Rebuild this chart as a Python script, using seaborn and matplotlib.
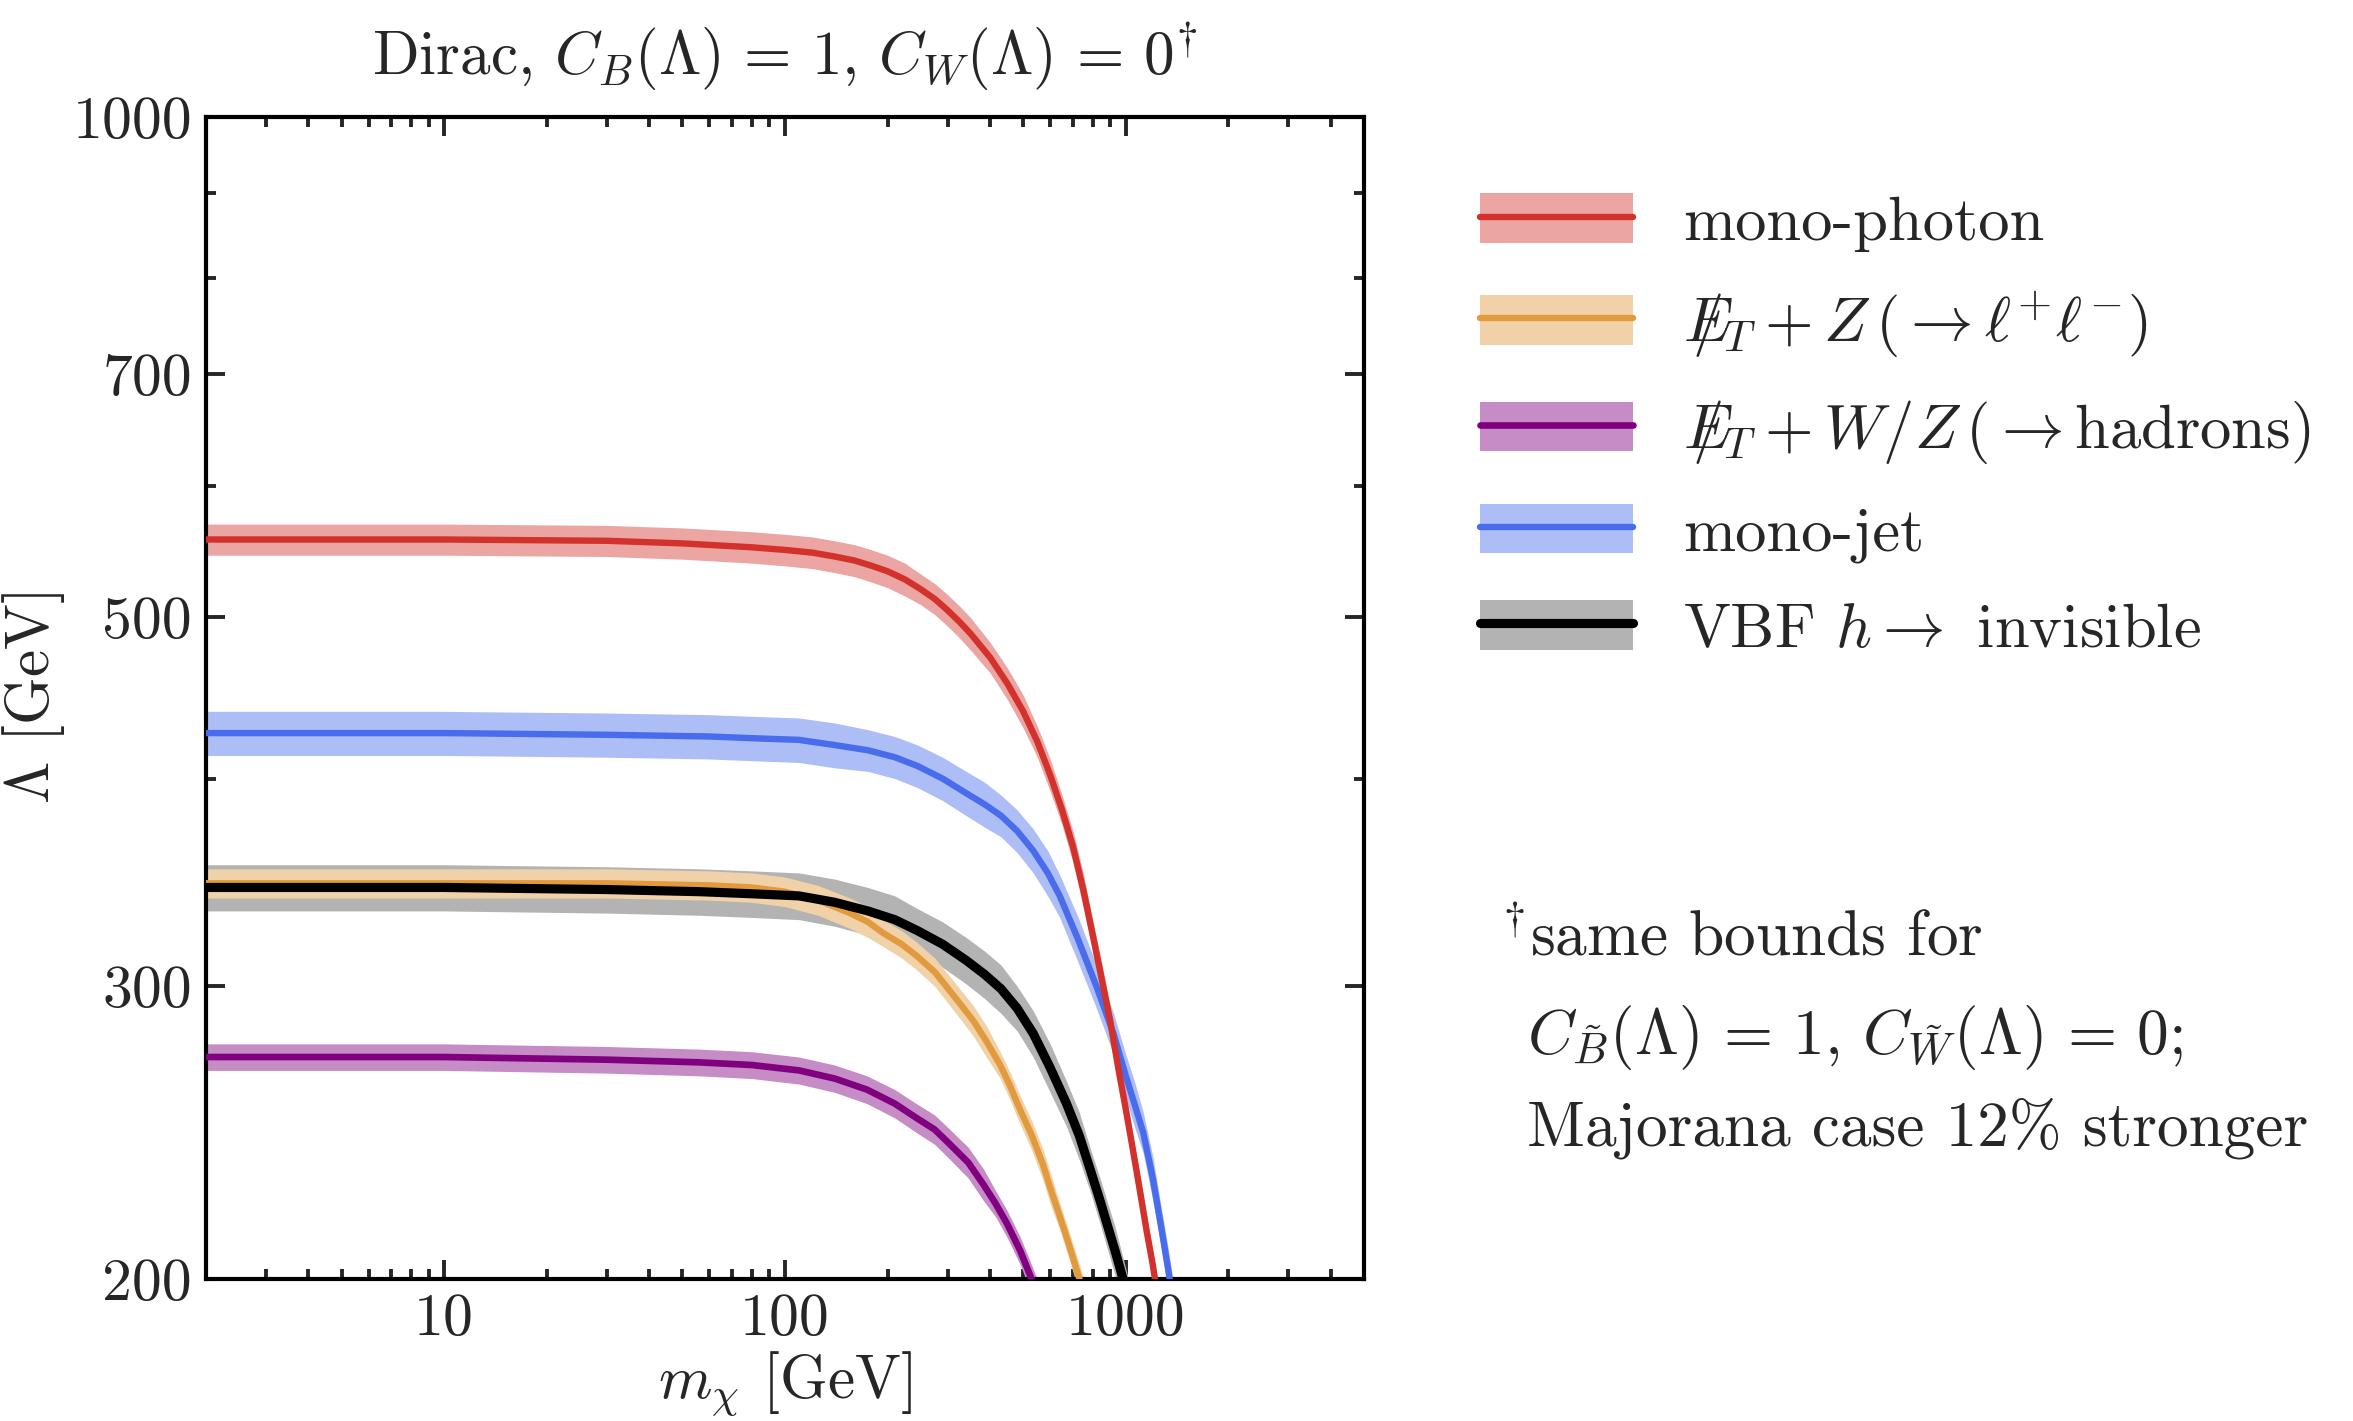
import numpy as np
import pandas as pd
import seaborn as sns
import matplotlib.pyplot as plt
from matplotlib.ticker import FixedLocator, FixedFormatter, NullFormatter, LogLocator
from matplotlib.patches import Patch
from matplotlib.lines import Line2D
from matplotlib.legend_handler import HandlerTuple

# values (m_chi in GeV, Lambda in GeV)
m_photon = [2, 10, 30, 50, 80, 100, 120, 140, 160, 180, 200, 225, 250, 275, 300, 325, 350, 400,
            450, 500, 550, 600, 650, 700, 750, 800, 850, 900, 950, 1000, 1050, 1100, 1150, 1200, 1260]
lam_photon = [557, 557, 556, 554, 551, 549, 547, 544, 541, 537, 533, 527, 520, 513, 505, 497, 489, 473,
              456, 439, 421, 402, 383, 364, 343, 322, 303, 286, 268, 253, 239, 226, 214, 204, 191]
lam_photon_hi = [569, 569, 568, 566, 563, 561, 559, 556, 553, 549, 545, 539, 531, 524, 516, 508, 500, 483,
                 466, 449, 430, 411, 391, 372, 351, 329, 310, 292, 274, 259, 244, 231, 219, 208, 195]
lam_photon_lo = [545, 545, 544, 542, 539, 537, 535, 532, 529, 525, 521, 515, 509, 502, 494, 486, 478, 463,
                 446, 429, 412, 393, 375, 356, 335, 315, 296, 280, 262, 247, 234, 221, 209, 200, 187]

m_zll = [2, 10, 30, 60, 80, 100, 125, 155, 175, 194, 220, 243, 275, 305, 330, 357, 390, 428,
         455, 489, 530, 573, 600, 641, 680, 726, 760]
lam_zll = [346, 346, 346, 345, 344, 342, 338, 332, 328, 323, 318, 313, 306, 298, 292, 286, 278, 269,
           262, 253, 244, 234, 227, 218, 210, 201, 195]
lam_zll_hi = [353, 353, 353, 352, 351, 349, 345, 339, 335, 329, 324, 319, 312, 304, 298, 292, 284, 274,
              267, 258, 249, 239, 232, 222, 214, 205, 199]
lam_zll_lo = [339, 339, 339, 338, 337, 335, 331, 325, 321, 317, 312, 307, 300, 292, 286, 280, 272, 264,
              257, 248, 239, 229, 222, 214, 206, 197, 191]

m_had = [2, 10, 30, 56, 80, 110, 140, 174, 210, 243, 275, 305, 345, 382, 415, 448, 490, 524, 560]
lam_had = [272, 272, 271, 270, 269, 267, 264, 260, 255, 250, 246, 241, 235, 228, 222, 216, 208, 201, 194]
lam_had_hi = [277, 277, 276, 275, 274, 272, 269, 265, 260, 255, 251, 246, 240, 233, 226, 220, 212, 205, 198]
lam_had_lo = [267, 267, 266, 265, 264, 262, 259, 255, 250, 245, 241, 236, 230, 223, 218, 212, 204, 197, 190]

m_jet = [2, 10, 30, 60, 80, 110, 140, 175, 210, 245, 290, 340, 385, 430, 480, 535, 590, 640,
         725, 820, 920, 1000, 1060, 1125, 1200, 1270, 1335, 1390]
lam_jet = [426, 426, 425, 424, 423, 422, 419, 416, 412, 407, 400, 392, 386, 380, 372, 362, 351, 340,
           320, 300, 281, 265, 255, 245, 230, 215, 202, 191]
lam_jet_hi = [439, 439, 438, 437, 436, 435, 432, 428, 424, 419, 412, 404, 398, 391, 383, 373, 362, 350,
              330, 309, 289, 273, 263, 252, 237, 221, 208, 197]
lam_jet_lo = [413, 413, 412, 411, 410, 409, 406, 404, 400, 395, 388, 380, 374, 369, 361, 351, 340, 330,
              310, 291, 273, 257, 247, 238, 223, 209, 196, 185]

m_vbf = [2, 10, 30, 56, 80, 110, 140, 175, 210, 245, 290, 340, 385, 430, 480, 535, 600, 670,
         730, 785, 840, 880, 930, 975, 1025]
lam_vbf = [344, 344, 343, 342, 341, 340, 337, 333, 329, 324, 318, 311, 305, 299, 291, 281, 268, 255,
           244, 233, 223, 216, 208, 201, 193]
lam_vbf_hi = [355, 355, 354, 353, 352, 351, 348, 344, 340, 334, 328, 321, 315, 309, 300, 290, 277, 263,
              252, 240, 230, 223, 215, 207, 199]
lam_vbf_lo = [333, 333, 332, 331, 330, 329, 326, 322, 318, 314, 308, 301, 295, 289, 282, 272, 259, 247,
              236, 226, 216, 209, 201, 195, 187]

labels = [
    'mono-photon',
    r'$E\!\!\!\!/_{T} + Z\,(\rightarrow \ell^{+}\ell^{-})$',
    r'$E\!\!\!\!/_{T} + W/Z\,(\rightarrow \mathrm{hadrons})$',
    'mono-jet',
    r'VBF $h \rightarrow$ invisible',
]
line_colors = ['#D3312B', '#E29A3E', '#800080', '#486CEB', '#000000']
band_colors = ['#EBA6A3', '#F1D1A7', '#C58CC5', '#ADBDF5', '#B3B3B3']

series = [
    (m_photon, lam_photon, lam_photon_lo, lam_photon_hi),
    (m_zll, lam_zll, lam_zll_lo, lam_zll_hi),
    (m_had, lam_had, lam_had_lo, lam_had_hi),
    (m_jet, lam_jet, lam_jet_lo, lam_jet_hi),
    (m_vbf, lam_vbf, lam_vbf_lo, lam_vbf_hi),
]

sns.set_style('ticks')
plt.rcParams['font.family'] = ['cmr10', 'DejaVu Serif']
plt.rcParams['mathtext.fontset'] = 'cm'
plt.rcParams['axes.unicode_minus'] = False
plt.rcParams['axes.formatter.use_mathtext'] = True

fig = plt.figure(figsize=(11.765, 7.105), dpi=200)
ax = fig.add_axes([0.0875, 0.0999, 0.4922, 0.8178])

# bands first (grey underneath), then the lines
band_order = [4, 2, 3, 1, 0]
for k, i in enumerate(band_order):
    m, c, lo, hi = series[i]
    ax.fill_between(m, lo, hi, color=band_colors[i], lw=0, zorder=1 + k * 0.1)

line_w = [2.3, 2.3, 2.4, 2.3, 3.3]
for i in [2, 3, 0, 1, 4]:
    m, c, lo, hi = series[i]
    df = pd.DataFrame({'m': m, 'lam': c})
    sns.lineplot(data=df, x='m', y='lam', ax=ax, color=line_colors[i],
                 lw=line_w[i], estimator=None, sort=False, zorder=3)

ax.set_xscale('log')
ax.set_yscale('log')
ax.set_xlim(2, 5000)
ax.set_ylim(200, 1000)

ax.xaxis.set_major_locator(FixedLocator([10, 100, 1000]))
ax.xaxis.set_major_formatter(FixedFormatter(['10', '100', '1000']))
ax.xaxis.set_minor_locator(LogLocator(base=10, subs=np.arange(2, 10)))
ax.xaxis.set_minor_formatter(NullFormatter())
ax.yaxis.set_major_locator(FixedLocator([200, 300, 500, 700, 1000]))
ax.yaxis.set_major_formatter(FixedFormatter(['200', '300', '500', '700', '1000']))
ax.yaxis.set_minor_locator(FixedLocator([400, 600, 800, 900]))
ax.yaxis.set_minor_formatter(NullFormatter())

ax.tick_params(which='both', direction='in', top=True, right=True, labelsize=21.5, width=1.4)
ax.tick_params(which='major', length=7, pad=5)
ax.tick_params(which='minor', length=3.5)
for s in ax.spines.values():
    s.set_linewidth(1.5)
    s.set_color('black')

ax.set_xlabel(r'$m_{\chi}$ [GeV]', fontsize=22, labelpad=1)
ax.set_ylabel(r'$\Lambda$ [GeV]', fontsize=22, labelpad=2)
ax.set_title(r'Dirac, $C_B(\Lambda)\,=\,1$, $C_W(\Lambda)\,=\,0^{\dagger}$', fontsize=22, pad=15)

handles = [(Patch(color=band_colors[i], lw=0), Line2D([], [], color=line_colors[i], lw=line_w[i]))
           for i in range(5)]
fig.legend(handles, labels, handler_map={tuple: HandlerTuple(ndivide=1, pad=0)},
           loc='upper left', bbox_to_anchor=(0.629, 0.864), frameon=False, fontsize=22.5,
           handlelength=2.45, handleheight=0.85, handletextpad=0.8, labelspacing=0.6,
           borderpad=0, borderaxespad=0)

fig.text(0.638, 0.339, r'$^{\dagger}$same bounds for', fontsize=22.8, va='center', ha='left')
fig.text(0.649, 0.270, r'$C_{\tilde{B}}(\Lambda)\,=\,1,\, C_{\tilde{W}}(\Lambda)\,=\,0;$',
         fontsize=22.8, va='center', ha='left')
fig.text(0.649, 0.206, 'Majorana case 12% stronger', fontsize=22.8, va='center', ha='left')

fig.savefig('out.png', dpi=200)
